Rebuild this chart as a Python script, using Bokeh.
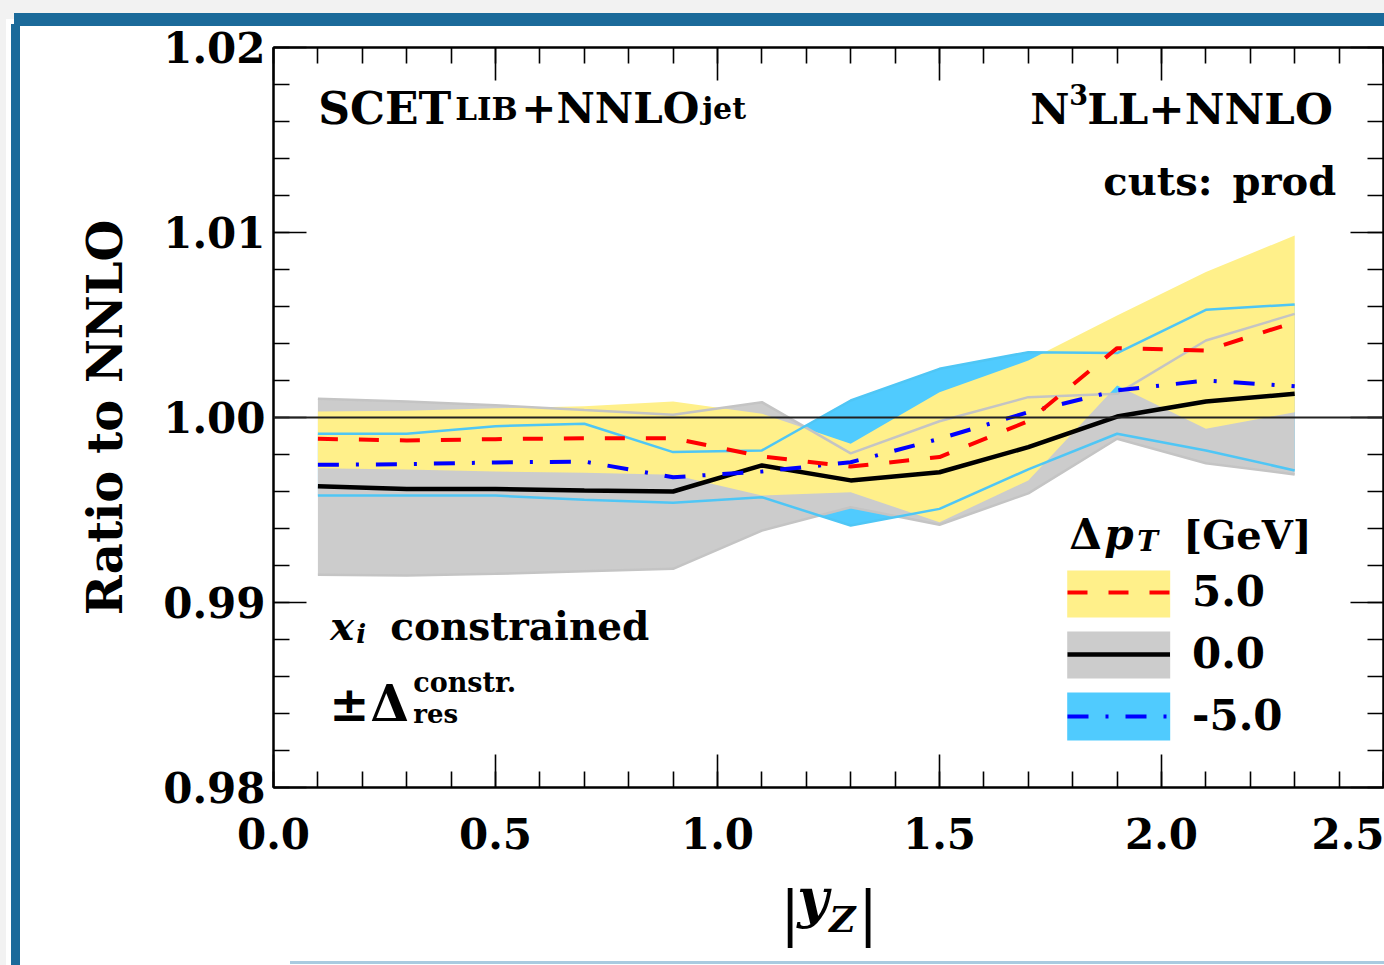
import math
from bokeh.plotting import figure
from bokeh.layouts import column
from bokeh.models import (Range1d, LinearAxis, FixedTicker, PrintfTickFormatter, Span,
                          Label, Legend, LegendItem, BoxAnnotation, ColumnDataSource,
                          CustomJSTickFormatter)
from bokeh.embed import file_html
from bokeh.resources import INLINE

# ---------------- data ----------------
yz = [0.1, 0.3, 0.5, 0.7, 0.9, 1.1, 1.3, 1.5, 1.7, 1.9, 2.1, 2.3]

# dpT = +5.0 (yellow band, red dashed)
up_p5 = [1.00032, 1.00036, 1.00050, 1.00061, 1.00086, 1.00020, 0.99858, 1.00137, 1.00308, 1.00551, 1.00786, 1.00984]
lo_p5 = [0.99726, 0.99719, 0.99708, 0.99701, 0.99690, 0.99578, 0.99596, 0.99434, 0.99660, 1.00173, 0.99939, 1.00029]
mid_p5 = [0.99885, 0.99876, 0.99883, 0.99888, 0.99888, 0.99789, 0.99735, 0.99786, 0.99980, 1.00375, 1.00362, 1.00515]

# dpT = 0.0 (gray band, black solid)
up_0 = [1.00101, 1.00086, 1.00066, 1.00040, 1.00015, 1.00083, 0.99806, 0.99980, 1.00110, 1.00128, 1.00416, 1.00560]
lo_0 = [0.99150, 0.99146, 0.99155, 0.99169, 0.99182, 0.99389, 0.99515, 0.99420, 0.99590, 0.99885, 0.99753, 0.99692]
mid_0 = [0.99629, 0.99614, 0.99614, 0.99605, 0.99600, 0.99741, 0.99660, 0.99704, 0.99840, 1.00005, 1.00086, 1.00128]

# dpT = -5.0 (blue band, blue dash-dot)
up_m5 = [0.99912, 0.99912, 0.99953, 0.99966, 0.99813, 0.99822, 1.00092, 1.00263, 1.00353, 1.00348, 1.00582, 1.00611]
lo_m5 = [0.99578, 0.99578, 0.99578, 0.99555, 0.99539, 0.99569, 0.99416, 0.99506, 0.99720, 0.99912, 0.99822, 0.99714]
mid_m5 = [0.99744, 0.99748, 0.99757, 0.99762, 0.99677, 0.99708, 0.99758, 0.99885, 1.00029, 1.00146, 1.00200, 1.00169]

legend_labels = ["5.0", "0.0", "-5.0"]
x_ticks = [0.0, 0.5, 1.0, 1.5, 2.0, 2.5]
y_ticks = [0.98, 0.99, 1.00, 1.01, 1.02]

# ---------------- styling ----------------
YELLOW = "#FFF08A"
GRAY = "#CCCCCC"
CYAN = "#50CBFE"
CYAN_LINE = "#4FC6F5"
GRAY_LINE = "#C4C4C4"
FONT = "DejaVu Serif"
BAR = "#1B6A9A"
H1 = 867          # main figure height
H2 = 965 - H1     # strip below holding the x-axis title

src = ColumnDataSource(dict(x=yz, up_p5=up_p5, lo_p5=lo_p5, mid_p5=mid_p5,
                            up_0=up_0, lo_0=lo_0, mid_0=mid_0,
                            up_m5=up_m5, lo_m5=lo_m5, mid_m5=mid_m5))

p = figure(width=1384, height=H1, x_range=Range1d(0, 2.5), y_range=Range1d(0.98, 1.02),
           output_backend="svg", toolbar_location=None,
           min_border_left=273, min_border_right=1, min_border_top=47, min_border_bottom=H1 - 787)
p.grid.visible = False
p.background_fill_color = "white"
p.border_fill_color = None
p.outline_line_color = "black"
p.outline_line_width = 2
# slide decoration drawn as the page background behind the (transparent) border
p.styles = {
    "background": (
        f"linear-gradient({BAR},{BAR}) 14px 13px / 1370px 13px no-repeat, "
        f"linear-gradient({BAR},{BAR}) 11px 24px / 9px {H1 - 24}px no-repeat, "
        f"linear-gradient(#F2F2F2,#F2F2F2) 0px 0px / 1384px 19px no-repeat, "
        f"linear-gradient(#F2F2F2,#F2F2F2) 0px 0px / 6px {H1}px no-repeat, "
        "#FFFFFF"
    )
}

# bands
r_cyan = p.varea(x="x", y1="lo_m5", y2="up_m5", source=src, fill_color=CYAN)
r_gray = p.varea(x="x", y1="lo_0", y2="up_0", source=src, fill_color=GRAY)
r_yel = p.varea(x="x", y1="lo_p5", y2="up_p5", source=src, fill_color=YELLOW)
for col in ("up_0", "lo_0"):
    p.line(x="x", y=col, source=src, line_color=GRAY_LINE, line_width=2.5)
for col in ("up_m5", "lo_m5"):
    p.line(x="x", y=col, source=src, line_color=CYAN_LINE, line_width=2.5)

p.add_layout(Span(location=1.0, dimension="width", line_color="#222222", line_width=1.8))

r_black = p.line(x="x", y="mid_0", source=src, line_color="black", line_width=4.5)
r_blue = p.line(x="x", y="mid_m5", source=src, line_color="#0000FF", line_width=4,
                line_dash="21 17 3 17")
r_red = p.line(x="x", y="mid_p5", source=src, line_color="#FF0000", line_width=4,
               line_dash="20 21")

# axes
def style_axis(ax, ticks, minor, fmt, show_labels):
    ax.ticker = FixedTicker(ticks=ticks, minor_ticks=minor)
    ax.major_tick_in = 33
    ax.major_tick_out = 0
    ax.minor_tick_in = 16
    ax.minor_tick_out = 0
    ax.major_tick_line_color = "black"
    ax.minor_tick_line_color = "black"
    ax.major_tick_line_width = 1.6
    ax.minor_tick_line_width = 1.6
    ax.axis_line_color = "black"
    ax.axis_line_width = 2
    if show_labels:
        ax.formatter = PrintfTickFormatter(format=fmt)
        ax.major_label_text_font = FONT
        ax.major_label_text_font_style = "bold"
        ax.major_label_text_font_size = "42px"
        ax.major_label_text_color = "black"
    else:
        ax.formatter = CustomJSTickFormatter(code="return ''")
        ax.major_label_standoff = 0

x_minor = [round(0.1 * i, 1) for i in range(26)]
y_minor = [round(0.98 + 0.002 * i, 3) for i in range(21)]

style_axis(p.xaxis[0], x_ticks, x_minor, "%.1f", True)
p.xaxis[0].major_label_standoff = 30
style_axis(p.yaxis[0], y_ticks, y_minor, "%.2f", True)
p.yaxis[0].major_label_standoff = 8
p.yaxis[0].axis_label = "Ratio to NNLO"
p.yaxis[0].axis_label_text_font = FONT
p.yaxis[0].axis_label_text_font_style = "bold"
p.yaxis[0].axis_label_text_font_size = "48px"
p.yaxis[0].axis_label_text_color = "black"
p.yaxis[0].axis_label_standoff = 27

top_ax = LinearAxis()
style_axis(top_ax, x_ticks, x_minor, "%.1f", False)
p.add_layout(top_ax, "above")
right_ax = LinearAxis()
style_axis(right_ax, y_ticks, y_minor, "%.2f", False)
p.add_layout(right_ax, "right")

# pixel-layout helpers for annotation placement
OFF = -15
def dx(px):
    return (px - 273.3) / 444.0

def dy(py):
    return 1.0 - (py + OFF - 417.0) / 18500.0

# legend swatches (band colours) + legend lines
for (t, b), col in zip([(570, 617), (631, 678), (692, 740)], [YELLOW, GRAY, CYAN]):
    p.add_layout(BoxAnnotation(left=dx(1067), right=dx(1170), top=dy(t - OFF), bottom=dy(b - OFF),
                               fill_color=col, fill_alpha=1, line_color=None))

legend = Legend(items=[LegendItem(label=legend_labels[0], renderers=[r_red]),
                       LegendItem(label=legend_labels[1], renderers=[r_black]),
                       LegendItem(label=legend_labels[2], renderers=[r_blue])],
                location=(794, 47), glyph_width=103, glyph_height=48, label_height=48,
                spacing=13, padding=0, margin=0, label_standoff=22,
                border_line_color=None, background_fill_alpha=0,
                label_text_font=FONT, label_text_font_style="bold", label_text_font_size="42px",
                label_text_color="black")
p.add_layout(legend)

def lab(text, px, py, size, style="bold", align="left"):
    p.add_layout(Label(x=dx(px), y=dy(py), text=text, text_font=FONT, text_font_style=style,
                       text_font_size=f"{size}px", text_align=align, text_baseline="alphabetic",
                       text_color="black"))

lab("SCET", 318, 123, 44)
lab("LIB", 455, 123, 31)
lab("+NNLO", 521, 123, 42)
lab("jet", 702, 123, 30)
lab("N", 1030, 123, 43)
lab("3", 1069, 109, 27)
lab("LL+NNLO", 1087, 123, 43.5)
lab("cuts:\u2002prod", 1336, 195, 40, align="right")

lab("x", 330, 640, 40, style="bold italic")
lab("i", 356, 648, 26, style="bold italic")
lab("constrained", 390, 640, 39)
lab("±", 329, 718, 48)
lab("Δ", 370, 718, 50)
lab("constr.", 413, 697, 27)
lab("res", 413, 728, 26)

lab("Δ", 1069, 549, 42)
lab("p", 1104, 549, 42, style="bold italic")
lab("T", 1137, 556, 28, style="bold italic")
lab("[GeV]", 1183, 549, 40)

# ---------------- x-axis title strip ----------------
# its frame is aligned with the main frame (273..1383 px), so x data == page pixels
p2 = figure(width=1384, height=H2, x_range=Range1d(273.3, 1383.3), y_range=Range1d(965, H1),
            output_backend="svg", toolbar_location=None, min_border=0,
            min_border_left=273, min_border_right=1,
            x_axis_location=None, y_axis_location=None)
p2.grid.visible = False
p2.outline_line_color = None
p2.background_fill_color = None
p2.border_fill_color = None
p2.styles = {
    "background": (
        f"linear-gradient({BAR},{BAR}) 11px 0px / 9px {H2}px no-repeat, "
        f"linear-gradient(#A9CBE0,#A9CBE0) 290px {H2 - 4}px / 1094px 3px no-repeat, "
        f"linear-gradient(#F2F2F2,#F2F2F2) 0px 0px / 6px {H2}px no-repeat, "
        "#FFFFFF"
    )
}

def lab2(text, px, py, size, style="bold", align="left"):
    p2.add_layout(Label(x=px, y=py + OFF, text=text, text_font=FONT, text_font_style=style,
                        text_font_size=f"{size}px", text_align=align, text_baseline="alphabetic",
                        text_color="black"))

lab2("|", 790, 927, 60, style="normal", align="center")
lab2("y", 797, 912, 54, style="bold italic")
lab2("Z", 829, 933, 36, style="bold italic")
lab2("|", 868, 927, 60, style="normal", align="center")

layout = column(p, p2, spacing=0)
open("out.html", "w").write(file_html(layout, INLINE))
